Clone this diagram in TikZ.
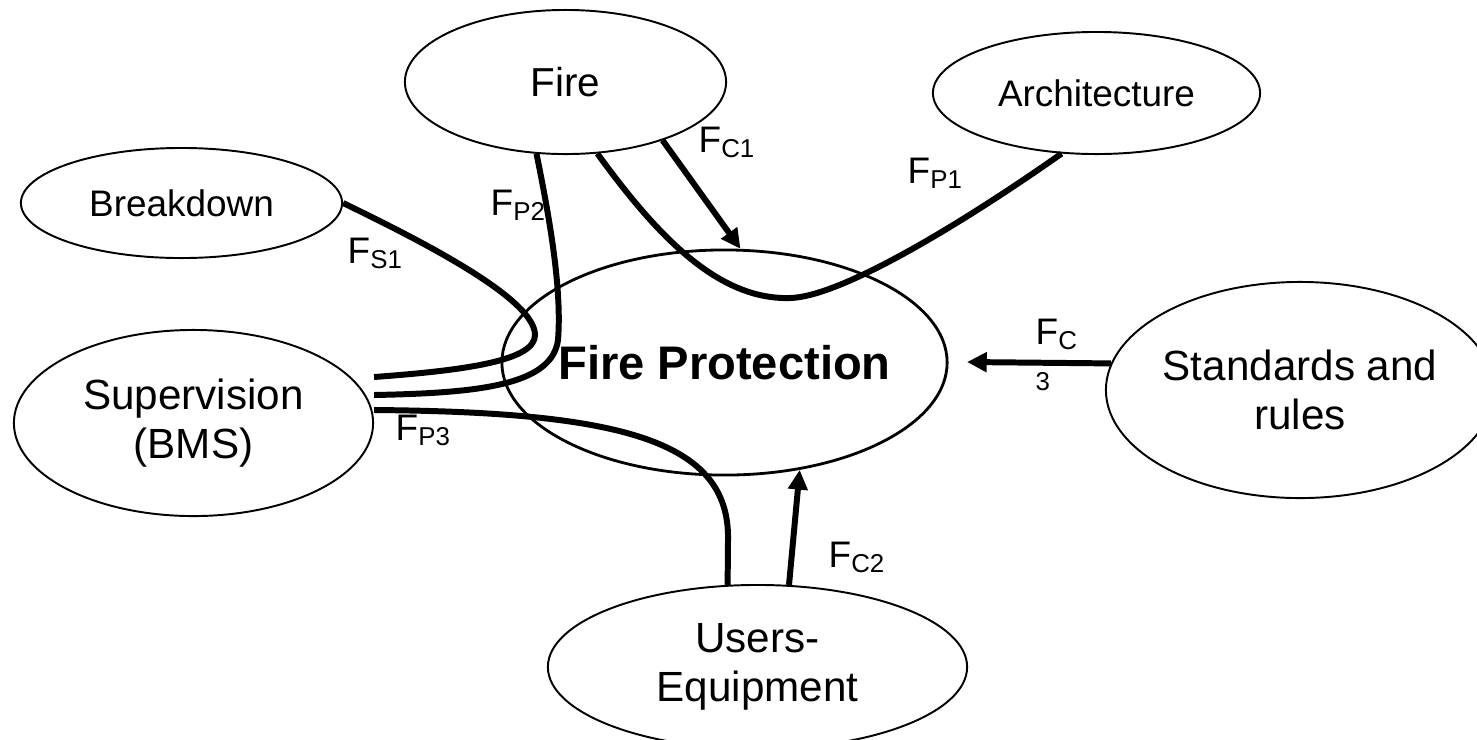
\documentclass[tikz,border=0pt]{standalone}
\usepackage{fontspec}
\setmainfont{Liberation Sans}
\usetikzlibrary{shapes.geometric,arrows.meta,calc}
\begin{document}
\begin{tikzpicture}[x=0.01cm,y=-0.01cm,
bubble/.style={draw=black,ellipse,line width=0.55pt,inner sep=0pt,align=center,font=\fontsize{12}{13.8}\selectfont},
flow/.style={line width=1.7pt},
force/.style={flow,-{Triangle[length=5.6pt,width=5.4pt]}},
lbl/.style={inner sep=0pt,anchor=base west,font=\fontsize{10.5}{12.6}\selectfont}
]
\useasboundingbox (0,0) rectangle (1477,739);
\clip (0,0) rectangle (1477,739);
\node[bubble,minimum width=3.21cm,minimum height=1.44cm,font=\fontsize{11.5}{13}\selectfont] (fire) at (565.5,82) {Fire};
\node[bubble,minimum width=3.27cm,minimum height=1.22cm,font=\fontsize{10.5}{12}\selectfont] (arch) at (1096.5,93) {Architecture};
\node[bubble,minimum width=3.21cm,minimum height=1.10cm,font=\fontsize{10.5}{12}\selectfont] (bd) at (181.5,203) {Breakdown};
\node[bubble,minimum width=3.59cm,minimum height=1.86cm] (sup) at (193.5,423) {Supervision\\(BMS)};
\node[bubble,line width=0.8pt,minimum width=4.45cm,minimum height=2.25cm,font=\bfseries\fontsize{13.4}{15}\selectfont] (fp) at (724.5,362.5) {\makebox[3cm]{Fire Protection}};
\node[bubble,minimum width=3.84cm,minimum height=2.16cm] (std) at (1300,390) {Standards and\\rules};
\node[bubble,minimum width=4.19cm,minimum height=1.64cm] (ue) at (757.5,667) {Users-\\Equipment};
\coordinate (c3) at (967,362);

\draw[force] (fire.-31.5) -- (fp.82);
\draw[force] (ue.69.4) -- (fp.-55);
\draw[force] (std.172) -- (c3);
\draw[flow] (fire.-66) .. controls (660,240) and (720,300) .. (790,298)
  .. controls (840,297) and (960,225) .. (arch.-120);
\draw[flow] (fire.-112.7) .. controls (550,220) and (562,290) .. (558,340)
  .. controls (552,385) and (480,393) .. ($(sup.east)+(0,-28)$);
\draw[flow] (bd.east) .. controls (430,245) and (535,300) .. (535,335)
  .. controls (535,360) and (470,370) .. ($(sup.east)+(0,-46)$);
\draw[flow] ($(sup.east)+(0,-13)$) .. controls (620,412) and (730,440) .. (728,540)
  -- (ue.110.6);

\node[lbl] (lc1) at (698,152) {F\textsubscript{C1}};
\node[lbl] (lp1) at (907,183) {F\textsubscript{P1}};
\node[lbl] (lp2) at (490,215) {F\textsubscript{P2}};
\node[lbl] (ls1) at (347,263) {F\textsubscript{S1}};
\node[lbl] (lp3) at (395,440) {F\textsubscript{P3}};
\node[lbl] (lc2) at (828,567) {F\textsubscript{C2}};
\node[lbl,anchor=north west,align=left] (lc3) at (1035,318) {F\textsubscript{C}\\[-1pt]\textsubscript{3}};
\end{tikzpicture}
\end{document}
